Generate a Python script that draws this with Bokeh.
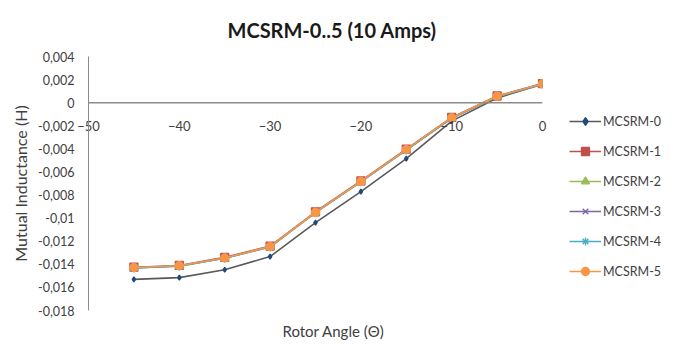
from bokeh.plotting import figure
from bokeh.models import (FixedTicker, Range1d, Legend, LegendItem, ColumnDataSource,
                          Title, Span)
from bokeh.embed import file_html
from bokeh.resources import INLINE

# ---- data ----
angles = [-45, -40, -35, -30, -25, -20, -15, -10, -5, 0]
mcsrm0 = [-0.0153, -0.01515, -0.01447, -0.01333, -0.01039, -0.0077, -0.00485, -0.0016, 0.0004, 0.0016]
mcsrm1 = [-0.01425, -0.0141, -0.0134, -0.01242, -0.00945, -0.00678, -0.00402, -0.00128, 0.00058, 0.00165]
mcsrm2 = [-0.01432, -0.01415, -0.01348, -0.0125, -0.00952, -0.00685, -0.0041, -0.00135, 0.00052, 0.00162]
mcsrm3 = [-0.0143, -0.01414, -0.01346, -0.01248, -0.0095, -0.00683, -0.00408, -0.00133, 0.00054, 0.00163]
mcsrm4 = [-0.01431, -0.01416, -0.01347, -0.01249, -0.00951, -0.00684, -0.00409, -0.00134, 0.00053, 0.00162]
mcsrm5 = [-0.01428, -0.01412, -0.01345, -0.01246, -0.00949, -0.00682, -0.00406, -0.0013, 0.00056, 0.00164]
series_names = ["MCSRM-0", "MCSRM-1", "MCSRM-2", "MCSRM-3", "MCSRM-4", "MCSRM-5"]

x_ticks = [-50, -40, -30, -20, -10, 0]
y_ticks = [0.004, 0.002, 0, -0.002, -0.004, -0.006, -0.008, -0.01, -0.012, -0.014, -0.016, -0.018]
y_tick_labels = ["0,004", "0,002", "0", "-0,002", "-0,004", "-0,006", "-0,008", "-0,01",
                 "-0,012", "-0,014", "-0,016", "-0,018"]
baseline_value = 0

title_text = "MCSRM-0..5 (10 Amps)"
x_label = "Rotor Angle (\u0398)"
y_label = "Mutual Inductance (H)"

FONT = "Lato"
TXT = "#404040"
AX = "#8c8c8c"

p = figure(frame_width=454, frame_height=254, output_backend="svg", toolbar_location=None,
           x_range=Range1d(-50, 0), y_range=Range1d(-0.018, 0.004),
           min_border_left=88, min_border_right=131, min_border_top=55, min_border_bottom=0)
p.outline_line_color = None
p.xgrid.visible = False
p.ygrid.visible = False

p.title.text = title_text
p.title.text_font = FONT
p.title.text_font_size = "20px"
p.title.text_font_style = "bold"
p.title.text_color = "#1a1a1a"
p.title.align = "left"
p.title.offset = 139
p.title.standoff = 30

# horizontal axis line at y = 0
p.add_layout(Span(location=baseline_value, dimension="width", line_color=AX, line_width=1.5))

# x tick labels placed just below the zero line
xa = p.xaxis[0]
xa.ticker = FixedTicker(ticks=x_ticks)
xa.axis_line_color = None
xa.major_tick_line_color = None
xa.minor_tick_line_color = None
xa.major_tick_out = 0
xa.minor_tick_out = 0
xa.major_label_standoff = -190
xa.major_label_text_font = FONT
xa.major_label_text_font_size = "13px"
xa.major_label_text_color = TXT

p.add_layout(Title(text=x_label, align="left", offset=194, text_font=FONT,
                   text_font_size="15px", text_font_style="normal", text_color=TXT,
                   standoff=18), "below")

p.yaxis.ticker = FixedTicker(ticks=y_ticks)
p.yaxis.major_label_overrides = {t: l for t, l in zip(y_ticks, y_tick_labels)}
p.yaxis.axis_line_color = AX
p.yaxis.major_tick_line_color = None
p.yaxis.minor_tick_line_color = None
p.yaxis.major_tick_out = 0
p.yaxis.major_label_standoff = 14
p.yaxis.major_label_text_font = FONT
p.yaxis.major_label_text_font_size = "12.5px"
p.yaxis.major_label_text_color = TXT
p.yaxis.axis_label = y_label
p.yaxis.axis_label_text_font = FONT
p.yaxis.axis_label_text_font_size = "16px"
p.yaxis.axis_label_text_font_style = "normal"
p.yaxis.axis_label_text_color = TXT
p.yaxis.axis_label_standoff = 5

styles = [
    dict(line="#595959", marker="diamond", color="#1F497D", size=5),
    dict(line="#C0504D", marker="square", color="#C0504D", size=8),
    dict(line="#9BBB59", marker="triangle", color="#9BBB59", size=8),
    dict(line="#8064A2", marker="x", color="#8064A2", size=9),
    dict(line="#4BACC6", marker="asterisk", color="#4BACC6", size=9),
    dict(line="#F79646", marker="circle", color="#F79646", size=8),
]
data = [mcsrm0, mcsrm1, mcsrm2, mcsrm3, mcsrm4, mcsrm5]
items = []
for name, ys, st in zip(series_names, data, styles):
    src = ColumnDataSource(dict(x=angles, y=ys))
    ln = p.line("x", "y", source=src, line_color=st["line"], line_width=1.6)
    sc = p.scatter("x", "y", source=src, marker=st["marker"], size=st["size"],
                   fill_color=st["color"], line_color=st["color"], line_width=1.3)
    items.append(LegendItem(label=name, renderers=[ln, sc]))

legend = Legend(items=items, location=(27, 29))
legend.border_line_color = None
legend.background_fill_alpha = 0
legend.label_text_font = FONT
legend.label_text_font_size = "12.5px"
legend.label_text_color = TXT
legend.glyph_width = 32
legend.glyph_height = 20
legend.label_height = 20
legend.spacing = 10
legend.label_standoff = 2
legend.margin = 0
legend.padding = 0
p.add_layout(legend, "right")

open("out.html", "w").write(file_html(p, INLINE))
